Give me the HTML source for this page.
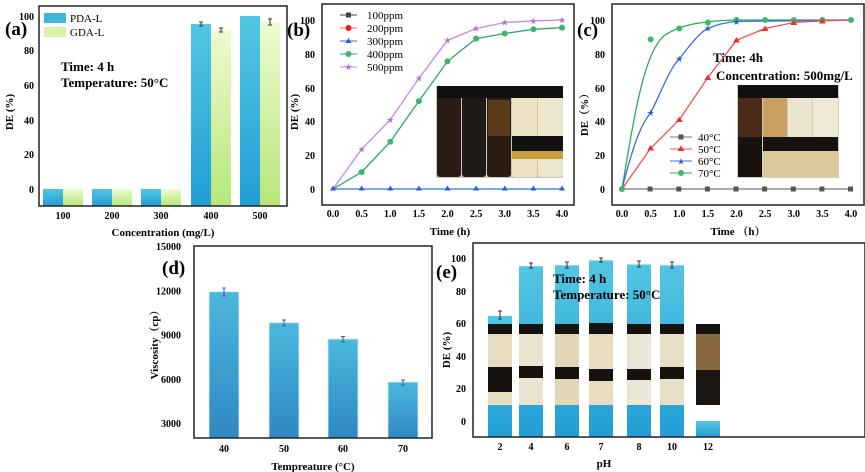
<!DOCTYPE html>
<html><head><meta charset="utf-8"><style>
html,body{margin:0;padding:0;background:#fff}
svg{display:block;font-family:"Liberation Serif",serif;font-weight:bold}
</style></head><body>
<svg width="865" height="472" viewBox="0 0 865 472" xmlns="http://www.w3.org/2000/svg">
<defs>
<linearGradient id="gb" x1="0" y1="0" x2="0" y2="1"><stop offset="0" stop-color="#52c6e2"/><stop offset="1" stop-color="#229ed6"/></linearGradient>
<linearGradient id="gg" x1="0" y1="0" x2="0" y2="1"><stop offset="0" stop-color="#eefad0"/><stop offset="1" stop-color="#b6e77a"/></linearGradient>
<linearGradient id="gd" x1="0" y1="0" x2="0" y2="1"><stop offset="0" stop-color="#4bb8de"/><stop offset="1" stop-color="#2f88c2"/></linearGradient>
</defs>

<!-- ===== (a) ===== -->
<g>
<rect x="43" y="16" width="20" height="190" fill="url(#gb)"/>
<rect x="39" y="189" width="0" height="0"/>
<g fill="url(#gb)">
<rect x="43" y="189" width="20" height="17"/><rect x="92" y="189" width="20" height="17"/><rect x="141" y="189" width="20" height="17"/>
<rect x="191" y="24" width="20" height="182"/><rect x="240" y="16" width="20" height="190"/>
</g>
<g fill="url(#gg)">
<rect x="63" y="189" width="20" height="17"/><rect x="112" y="189" width="20" height="17"/><rect x="161" y="189" width="20" height="17"/>
<rect x="211" y="30" width="20" height="176"/><rect x="260" y="22" width="20" height="184"/>
</g>
<rect x="43" y="16" width="20" height="173" fill="#fff"/>
<g stroke="#333" stroke-width="1" fill="none">
<path d="M201 22v4M199 22h4M199 26h4M221 28v4M219 28h4M219 32h4M270 19v6M268 19h4M268 25h4"/>
</g>
<rect x="44" y="13" width="22" height="10" fill="#3fb6dc"/>
<rect x="44" y="27" width="22" height="10" fill="#d9f3a8"/>
<text x="70" y="22" font-size="11" font-weight="normal">PDA-L</text>
<text x="70" y="36" font-size="11" font-weight="normal">GDA-L</text>
<rect x="39" y="6" width="248" height="200" fill="none" stroke="#222" stroke-width="1.5"/>
<g font-size="10" text-anchor="end">
<text x="34" y="20">100</text><text x="34" y="54">80</text><text x="34" y="89">60</text><text x="34" y="124">40</text><text x="34" y="158">20</text><text x="34" y="193">0</text>
</g>
<g font-size="10" text-anchor="middle">
<text x="63" y="219">100</text><text x="112" y="219">200</text><text x="161" y="219">300</text><text x="211" y="219">400</text><text x="260" y="219">500</text>
</g>
<text x="163" y="236" font-size="11" text-anchor="middle">Concentration (mg/L)</text>
<text transform="translate(13,112) rotate(-90)" font-size="11" text-anchor="middle">DE (%)</text>
<text x="5" y="35" font-size="19">(a)</text>
<text x="61" y="71" font-size="13">Time: 4 h</text>
<text x="61" y="87" font-size="13">Temperature: 50°C</text>
</g>

<!-- ===== (b) ===== -->
<g>
<rect x="436" y="86" width="127" height="92" fill="#c9c6bd"/>
<g>
<rect x="437" y="87" width="24" height="90" rx="3" fill="#2a1c14"/><rect x="462" y="89" width="24" height="88" rx="3" fill="#1e1a18"/><rect x="487" y="87" width="24" height="90" rx="3" fill="#2a1d14"/>
<rect x="488" y="100" width="22" height="36" fill="#5a3a18"/>
<rect x="512" y="90" width="25" height="87" rx="3" fill="#ece3c4"/><rect x="538" y="90" width="25" height="87" rx="3" fill="#eee6cc"/>
<rect x="512" y="136" width="51" height="15" fill="#111"/><rect x="512" y="151" width="51" height="8" fill="#c99e3c"/>
<rect x="437" y="86" width="126" height="12" fill="#111"/>
</g>
<g fill="none" stroke-width="1.3">
<polyline stroke="#c28ae8" points="333,189 361.6,149.3 390.3,119.7 418.9,78.3 447.5,40.3 476.1,28.5 504.8,22.5 533.4,20.8 562,20"/>
<polyline stroke="#2ea860" points="333,189 361.6,172.1 390.3,141.7 418.9,101.1 447.5,61.4 476.1,38.6 504.8,33.5 533.4,29.3 562,27.6"/>
<line x1="333" y1="189" x2="562" y2="189" stroke="#3a6fd8"/>
</g>
<g fill="#b070e0" font-size="9" font-weight="normal" text-anchor="middle">
<text x="361.6" y="152.5">★</text><text x="390.3" y="123">★</text><text x="418.9" y="81.5">★</text><text x="447.5" y="43.5">★</text><text x="476.1" y="31.7">★</text><text x="504.8" y="25.7">★</text><text x="533.4" y="24">★</text><text x="562" y="23.2">★</text>
</g>
<g fill="#3cb66c"><circle cx="361.6" cy="172.1" r="3"/><circle cx="390.3" cy="141.7" r="3"/><circle cx="418.9" cy="101.1" r="3"/><circle cx="447.5" cy="61.4" r="3"/><circle cx="476.1" cy="38.6" r="3"/><circle cx="504.8" cy="33.5" r="3"/><circle cx="533.4" cy="29.3" r="3"/><circle cx="562" cy="27.6" r="3"/></g>
<g fill="#2a5fd0">
<path d="M333 185.5l3 5h-6z"/><path d="M361.6 185.5l3 5h-6z"/><path d="M390.3 185.5l3 5h-6z"/><path d="M418.9 185.5l3 5h-6z"/><path d="M447.5 185.5l3 5h-6z"/><path d="M476.1 185.5l3 5h-6z"/><path d="M504.8 185.5l3 5h-6z"/><path d="M533.4 185.5l3 5h-6z"/><path d="M562 185.5l3 5h-6z"/>
</g>
<g font-size="11" font-weight="normal">
<line x1="340" y1="15" x2="357" y2="15" stroke="#444"/><rect x="346" y="12.5" width="5" height="5" fill="#444"/><text x="367" y="19">100ppm</text>
<line x1="340" y1="28" x2="357" y2="28" stroke="#f06060"/><circle cx="348.5" cy="28" r="3" fill="#e02020"/><text x="367" y="32">200ppm</text>
<line x1="340" y1="41" x2="357" y2="41" stroke="#3a6fd8"/><path d="M348.5 38l3 5h-6z" fill="#2a5fd0"/><text x="367" y="45">300ppm</text>
<line x1="340" y1="54" x2="357" y2="54" stroke="#2ea860"/><circle cx="348.5" cy="54" r="3" fill="#3cb66c"/><text x="367" y="58">400ppm</text>
<line x1="340" y1="67" x2="357" y2="67" stroke="#c28ae8"/><text x="348.5" y="70" font-size="9" text-anchor="middle" fill="#b070e0">★</text><text x="367" y="71">500ppm</text>
</g>
<rect x="322" y="4" width="252" height="201" fill="none" stroke="#222" stroke-width="1.5"/>
<g font-size="10" text-anchor="end">
<text x="315" y="24">100</text><text x="315" y="58">80</text><text x="315" y="92">60</text><text x="315" y="125">40</text><text x="315" y="159">20</text><text x="315" y="193">0</text>
</g>
<g font-size="10" text-anchor="middle">
<text x="333" y="217">0.0</text><text x="361.6" y="217">0.5</text><text x="390.3" y="217">1.0</text><text x="418.9" y="217">1.5</text><text x="447.5" y="217">2.0</text><text x="476.1" y="217">2.5</text><text x="504.8" y="217">3.0</text><text x="533.4" y="217">3.5</text><text x="562" y="217">4.0</text>
</g>
<text x="450" y="235" font-size="11" text-anchor="middle">Time (h)</text>
<text transform="translate(298,112) rotate(-90)" font-size="11" text-anchor="middle">DE (%)</text>
<text x="287" y="36" font-size="19">(b)</text>
</g>

<!-- ===== (c) ===== -->
<g>
<rect x="737" y="85" width="102" height="93" fill="#d0cdc4"/>
<rect x="738" y="92" width="24" height="85" rx="3" fill="#4a2a18"/><rect x="738" y="137" width="24" height="40" fill="#1a1210"/>
<rect x="763" y="92" width="24" height="85" rx="3" fill="#c9a060"/><rect x="788" y="92" width="24" height="85" rx="3" fill="#ebe4cc"/><rect x="813" y="92" width="25" height="85" rx="3" fill="#eee8d4"/>
<rect x="763" y="137" width="75" height="14" fill="#151210"/>
<rect x="763" y="151" width="75" height="26" fill="#dccb9a"/>
<rect x="738" y="85" width="100" height="13" fill="#111"/>
<text x="713" y="62" font-size="13">Time: 4h</text>
<text x="716" y="80" font-size="13">Concentration: 500mg/L</text>
<g fill="none" stroke-width="1.3">
<path stroke="#2ea860" d="M622 189 C635 110 645 50 665 35 C680 25 700 21 736.5 20 L851 20"/>
<path stroke="#3a6fd8" d="M622 189 C632 150 640 125 650.6 113 C662 90 670 68 679.3 58.9 C690 45 700 32 707.9 28.5 C720 23 730 22 736.5 21.5 L851 20"/>
<polyline stroke="#f05050" points="622,189 650.6,148.4 679.3,119.7 707.9,77.5 736.5,40.3 765.1,28.5 793.8,22.5 822.4,20.8 851,20"/>
<line x1="622" y1="189" x2="851" y2="189" stroke="#777"/>
</g>
<g fill="#3cb66c"><circle cx="650.6" cy="39.4" r="3"/><circle cx="679.3" cy="28.5" r="3"/><circle cx="707.9" cy="22.5" r="3"/><circle cx="736.5" cy="20" r="3"/><circle cx="765.1" cy="20" r="3"/><circle cx="793.8" cy="20" r="3"/><circle cx="822.4" cy="20" r="3"/><circle cx="851" cy="20" r="3"/><circle cx="622" cy="189" r="3"/></g>
<g fill="#2a5fd0" font-size="9" font-weight="normal" text-anchor="middle"><text x="650.6" y="116">★</text><text x="679.3" y="62">★</text><text x="707.9" y="31.5">★</text><text x="736.5" y="25">★</text></g>
<g fill="#f03030"><path d="M650.6 145l3.5 5.5h-7z"/><path d="M679.3 116.5l3.5 5.5h-7z"/><path d="M707.9 74.5l3.5 5.5h-7z"/><path d="M736.5 37l3.5 5.5h-7z"/><path d="M765.1 25.5l3.5 5.5h-7z"/><path d="M793.8 19.5l3.5 5.5h-7z"/><path d="M822.4 18l3.5 5.5h-7z"/></g>
<g fill="#555"><rect x="647.6" y="186.5" width="5" height="5"/><rect x="676.3" y="186.5" width="5" height="5"/><rect x="704.9" y="186.5" width="5" height="5"/><rect x="733.5" y="186.5" width="5" height="5"/><rect x="762.1" y="186.5" width="5" height="5"/><rect x="790.8" y="186.5" width="5" height="5"/><rect x="819.4" y="186.5" width="5" height="5"/><rect x="848" y="186.5" width="5" height="5"/></g>
<g font-size="11" font-weight="normal">
<line x1="670" y1="137" x2="692" y2="137" stroke="#777"/><rect x="678.5" y="134.5" width="5" height="5" fill="#555"/><text x="698" y="141">40°C</text>
<line x1="670" y1="149" x2="692" y2="149" stroke="#f05050"/><path d="M681 145.5l3.5 5.5h-7z" fill="#f03030"/><text x="698" y="153">50°C</text>
<line x1="670" y1="161" x2="692" y2="161" stroke="#3a6fd8"/><text x="681" y="164.5" font-size="9" text-anchor="middle" fill="#2a5fd0">★</text><text x="698" y="165">60°C</text>
<line x1="670" y1="173" x2="692" y2="173" stroke="#2ea860"/><circle cx="681" cy="173" r="3" fill="#3cb66c"/><text x="698" y="177">70°C</text>
</g>
<rect x="612" y="4" width="252" height="201" fill="none" stroke="#222" stroke-width="1.5"/>
<g font-size="10" text-anchor="end">
<text x="605" y="24">100</text><text x="605" y="58">80</text><text x="605" y="92">60</text><text x="605" y="125">40</text><text x="605" y="159">20</text><text x="605" y="193">0</text>
</g>
<g font-size="10" text-anchor="middle">
<text x="622" y="217">0.0</text><text x="650.6" y="217">0.5</text><text x="679.3" y="217">1.0</text><text x="707.9" y="217">1.5</text><text x="736.5" y="217">2.0</text><text x="765.1" y="217">2.5</text><text x="793.8" y="217">3.0</text><text x="822.4" y="217">3.5</text><text x="851" y="217">4.0</text>
</g>
<text x="738" y="235" font-size="11" text-anchor="middle" font-family="Liberation Serif, Noto Serif CJK SC, serif">Time （h）</text>
<text transform="translate(588,112) rotate(-90)" font-size="11" text-anchor="middle" font-family="Liberation Serif, Noto Serif CJK SC, serif">DE（%）</text>
<text x="577" y="36" font-size="19">(c)</text>
</g>

<!-- ===== (d) ===== -->
<g>
<g fill="url(#gd)" stroke="#d8eef8" stroke-width="0.8">
<rect x="209" y="291.7" width="30" height="146.3"/><rect x="269" y="322.7" width="30" height="115.3"/><rect x="328" y="339" width="30" height="99"/><rect x="388" y="382" width="30" height="56"/>
</g>
<g stroke="#2f5fb0" stroke-width="1" fill="none">
<path d="M224 288v8M222 288h4M222 296h4M284 320v6M282 320h4M282 326h4M343 336.5v5.5M341 336.5h4M341 342h4M403 380v5M401 380h4M401 385h4"/>
</g>
<rect x="194" y="246" width="238" height="192" fill="none" stroke="#222" stroke-width="1.5"/>
<g font-size="10" text-anchor="end">
<text x="181" y="250">15000</text><text x="181" y="294.5">12000</text><text x="181" y="338.5">9000</text><text x="181" y="383">6000</text><text x="181" y="427">3000</text>
</g>
<g font-size="10" text-anchor="middle">
<text x="224" y="452">40</text><text x="284" y="452">50</text><text x="343" y="452">60</text><text x="403" y="452">70</text>
</g>
<text x="313" y="470" font-size="11" text-anchor="middle">Tempreature (°C)</text>
<text transform="translate(158,342) rotate(-90)" font-size="11" text-anchor="middle" font-family="Liberation Serif, Noto Serif CJK SC, serif">Viscosity（cp）</text>
<text x="162" y="274" font-size="19">(d)</text>
</g>

<!-- ===== (e) ===== -->
<g>
<g fill="url(#gb)">
<rect x="488" y="315.9" width="24" height="121.1"/><rect x="519" y="266.2" width="24" height="170.8"/><rect x="555" y="265.3" width="24" height="171.7"/><rect x="589" y="260.4" width="24" height="176.6"/><rect x="627" y="264.5" width="24" height="172.5"/><rect x="660" y="265.3" width="24" height="171.7"/><rect x="696" y="421" width="24" height="16"/>
</g>
<g stroke="#333" stroke-width="1" fill="none">
<path d="M500 311v8M498 311h4M498 319h4M531 263v5M529 263h4M529 268h4M567 262v6M565 262h4M565 268h4M601 258v4M599 258h4M599 262h4M639 261v6M637 261h4M637 267h4M672 262v6M670 262h4M670 268h4"/>
</g>
<g>
<rect x="488" y="327" width="24" height="78" fill="#e6dcc0"/><rect x="519" y="327" width="24" height="78" fill="#e9e3cf"/><rect x="555" y="327" width="24" height="78" fill="#e3d6b4"/><rect x="589" y="327" width="24" height="78" fill="#e8ddc0"/><rect x="627" y="327" width="24" height="78" fill="#ebe6d6"/><rect x="660" y="327" width="24" height="78" fill="#e7dec6"/>
<rect x="696" y="327" width="24" height="78" fill="#8a6a3c"/><rect x="696" y="370" width="24" height="35" fill="#1a1612"/>
<g fill="#151210">
<rect x="488" y="324" width="24" height="10"/><rect x="519" y="324" width="24" height="10"/><rect x="555" y="324" width="24" height="10"/><rect x="589" y="323" width="24" height="11"/><rect x="627" y="324" width="24" height="10"/><rect x="660" y="324" width="24" height="10"/><rect x="696" y="324" width="24" height="10"/>
<rect x="488" y="367" width="24" height="25"/><rect x="519" y="366" width="24" height="12"/><rect x="555" y="367" width="24" height="12"/><rect x="589" y="369" width="24" height="12"/><rect x="627" y="369" width="24" height="11"/><rect x="660" y="367" width="24" height="12"/>
</g>
</g>
<rect x="473" y="243" width="392" height="194" fill="none" stroke="#222" stroke-width="1.5"/>
<g font-size="10" text-anchor="end">
<text x="466" y="262">100</text><text x="466" y="295">80</text><text x="466" y="327">60</text><text x="466" y="360">40</text><text x="466" y="392">20</text><text x="466" y="425">0</text>
</g>
<g font-size="10" text-anchor="middle">
<text x="500" y="450">2</text><text x="531" y="450">4</text><text x="567" y="450">6</text><text x="601" y="450">7</text><text x="639" y="450">8</text><text x="672" y="450">10</text><text x="708" y="450">12</text>
</g>
<text x="604" y="467" font-size="11" text-anchor="middle">pH</text>
<text transform="translate(450,350) rotate(-90)" font-size="11" text-anchor="middle">DE (%)</text>
<text x="436" y="278" font-size="19">(e)</text>
<text x="553" y="283" font-size="13">Time: 4 h</text>
<text x="553" y="299" font-size="13">Temperature: 50°C</text>
</g>
</svg>
</body></html>
